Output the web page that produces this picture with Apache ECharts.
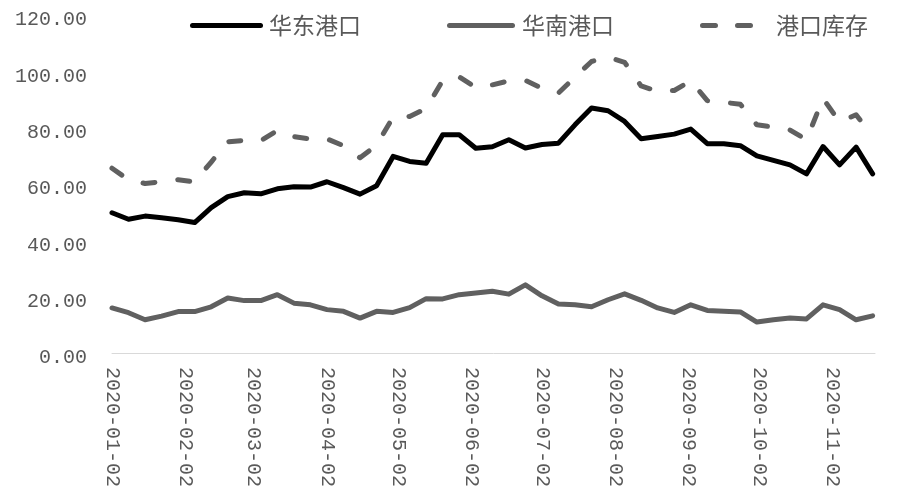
<!DOCTYPE html>
<html>
<head>
<meta charset="utf-8">
<script src="https://cdn.jsdelivr.net/npm/echarts@6/dist/echarts.min.js"></script>
<style>
html,body{margin:0;padding:0;background:#fff;}
#chart{width:900px;height:501px;}
</style>
</head>
<body>
<div id="chart"></div>
<script>
// weekly observation dates
const dates = [
  '2020-01-02','2020-01-09','2020-01-16','2020-01-23','2020-01-30',
  '2020-02-06','2020-02-13','2020-02-20','2020-02-27',
  '2020-03-05','2020-03-12','2020-03-19','2020-03-26',
  '2020-04-02','2020-04-09','2020-04-16','2020-04-23','2020-04-30',
  '2020-05-07','2020-05-14','2020-05-21','2020-05-28',
  '2020-06-04','2020-06-11','2020-06-18','2020-06-25',
  '2020-07-02','2020-07-09','2020-07-16','2020-07-23','2020-07-30',
  '2020-08-06','2020-08-13','2020-08-20','2020-08-27',
  '2020-09-03','2020-09-10','2020-09-17','2020-09-24',
  '2020-10-01','2020-10-08','2020-10-15','2020-10-22','2020-10-29',
  '2020-11-05','2020-11-12','2020-11-19'
];
// 华东港口
const eastPort = [49.8,47.5,48.6,48.0,47.3,46.3,51.6,55.5,56.9,56.5,58.3,59.0,58.9,60.8,58.7,56.4,59.4,69.8,68.0,67.4,77.5,77.5,72.7,73.2,75.7,72.8,74.0,74.5,81.0,87.0,86.0,82.2,76.1,76.9,77.7,79.5,74.3,74.3,73.6,70.0,68.4,66.8,63.6,73.3,66.8,73.1,63.6];
// 华南港口
const southPort = [16.0,14.3,11.8,13.1,14.7,14.7,16.4,19.5,18.6,18.6,20.7,17.7,17.1,15.4,14.8,12.4,14.8,14.4,16.1,19.3,19.2,20.7,21.3,21.9,20.9,24.2,20.3,17.4,17.1,16.4,18.9,21.0,18.7,16.0,14.4,17.1,15.1,14.8,14.6,11.0,11.8,12.4,12.1,17.1,15.4,11.8,13.2];
// 港口库存
const portStock = [65.6,61.5,60.2,60.8,61.5,60.8,67.8,75.0,75.5,75.4,79.0,76.8,76.0,76.0,73.6,69.3,73.8,83.8,84.0,86.8,96.8,98.0,94.3,95.2,96.6,96.8,94.0,92.3,98.0,103.5,105.0,103.2,94.8,92.9,93.2,96.6,89.6,89.0,88.3,81.0,80.2,79.2,75.7,90.4,82.0,84.6,76.8];
// x tick labels
const xTickLabels = ['2020-01-02','2020-02-02','2020-03-02','2020-04-02','2020-05-02','2020-06-02','2020-07-02','2020-08-02','2020-09-02','2020-10-02','2020-11-02'];
const xMaxDate = '2020-11-20';
// y axis
const yMin = 0, yMax = 120, yStep = 20;

function toTs(s){ const p = s.split('-').map(Number); return new Date(p[0], p[1]-1, p[2]).getTime(); }
function pad(n){ return (n<10?'0':'') + n; }
function fmt(ts){ const d = new Date(ts); return d.getFullYear() + '-' + pad(d.getMonth()+1) + '-' + pad(d.getDate()); }
function pairs(vals){ return vals.map((v,i)=>[toTs(dates[i]), v]); }

const monoFont = '"Liberation Mono","DejaVu Sans Mono",monospace';
const cjkFont = '"Noto Sans CJK SC","Noto Sans",sans-serif';
const textColor = '#595959';
const gray = '#606060';

const solidIcon = 'path://M2.5,0H70.5A2.5,2.5 0 0 1 70.5,5H2.5A2.5,2.5 0 0 1 2.5,0Z';
const solidIcon2 = 'path://M2.5,0H65.5A2.5,2.5 0 0 1 65.5,5H2.5A2.5,2.5 0 0 1 2.5,0Z';
const dashIcon = 'path://M2.5,0H15.5A2.5,2.5 0 0 1 15.5,5H2.5A2.5,2.5 0 0 1 2.5,0Z M37.5,0H50.5A2.5,2.5 0 0 1 50.5,5H37.5A2.5,2.5 0 0 1 37.5,0Z';

function legendBox(name, left, w, icon, textPad){
  return {
    left: left, top: 9,
    itemWidth: w, itemHeight: 5, itemGap: 0,
    icon: icon,
    textStyle: { fontFamily: cjkFont, fontSize: 23, color: textColor, padding: [0,0,0,textPad] },
    data: [name]
  };
}

const chart = echarts.init(document.getElementById('chart'), null, {renderer:'canvas'});
chart.setOption({
  animation: false,
  backgroundColor: '#ffffff',
  grid: { left: 112, right: 25, top: 15, bottom: 148 },
  legend: [
    legendBox('华东港口', 185, 73, solidIcon, 1),
    legendBox('华南港口', 442, 68, solidIcon2, 2),
    legendBox('港口库存', 695, 53, dashIcon, 18)
  ],
  xAxis: {
    type: 'value',
    min: toTs(dates[0]),
    max: toTs(xMaxDate),
    axisLine: { show: true, onZero: false, lineStyle: { color: '#d9d9d9', width: 1 } },
    axisTick: { show: false },
    splitLine: { show: false },
    axisLabel: {
      customValues: xTickLabels.map(toTs),
      formatter: function(v){ return fmt(v); },
      rotate: -90,
      margin: 14,
      fontFamily: monoFont,
      fontSize: 20,
      color: textColor
    }
  },
  yAxis: {
    type: 'value',
    min: yMin, max: yMax, interval: yStep,
    axisLine: { show: false },
    axisTick: { show: false },
    splitLine: { show: false },
    axisLabel: {
      formatter: function(v){ return v.toFixed(2); },
      margin: 25,
      fontFamily: monoFont,
      fontSize: 20,
      color: textColor,
      verticalAlign: 'top',
      lineHeight: 10
    }
  },
  series: [
    {
      name: '华东港口', type: 'line', data: pairs(eastPort),
      symbol: 'none', smooth: false,
      lineStyle: { color: '#000000', width: 5, cap: 'round', join: 'round' },
      itemStyle: { color: '#000000' }
    },
    {
      name: '华南港口', type: 'line', data: pairs(southPort),
      symbol: 'none', smooth: false,
      lineStyle: { color: gray, width: 5, cap: 'round', join: 'round' },
      itemStyle: { color: gray }
    },
    {
      name: '港口库存', type: 'line', data: pairs(portStock),
      symbol: 'none', smooth: false,
      lineStyle: { color: gray, width: 5, type: [12, 23], cap: 'round', join: 'round' },
      itemStyle: { color: gray }
    }
  ]
});
</script>
</body>
</html>
